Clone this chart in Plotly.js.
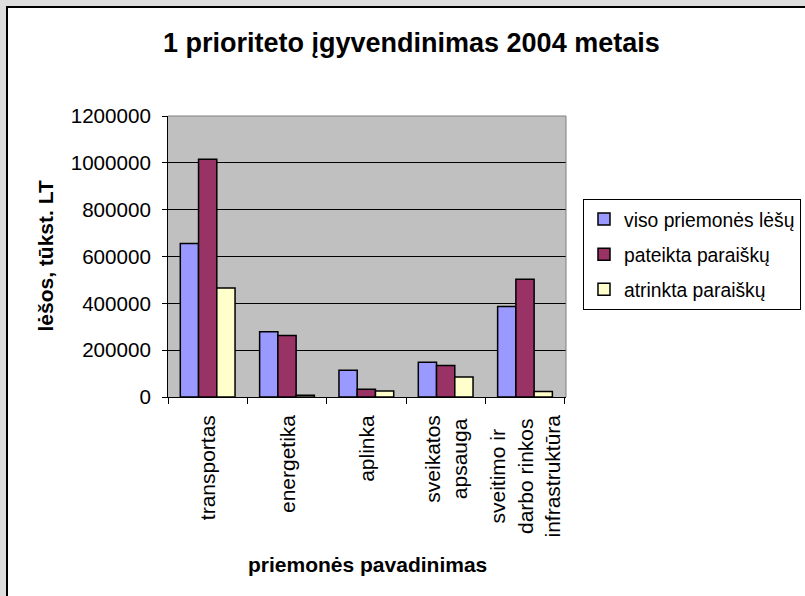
<!DOCTYPE html>
<html>
<head>
<meta charset="utf-8">
<script src="https://cdn.plot.ly/plotly-3.0.1.min.js"></script>
<style>
  html, body { margin: 0; padding: 0; background: #dedede; overflow: hidden; width: 805px; height: 596px; }
  #frame { position: absolute; left: 6px; top: 6px; width: 820px; height: 620px; background: #ffffff; border: 2px solid #000000; }
  #chart { position: absolute; left: 0; top: 0; width: 805px; height: 596px; }
</style>
</head>
<body>
<div id="frame"></div>
<div id="chart"></div>
<script>
// ---- data ----
var categories = ["transportas", "energetika", "aplinka", "sveikatos apsauga", "sveitimo ir darbo rinkos infrastruktūra"];
var tickLabels = ["transportas", "energetika", "aplinka", "sveikatos<br>apsauga", "sveitimo ir<br>darbo rinkos<br>infrastruktūra"];
var seriesNames = ["viso priemonės lėšų", "pateikta paraiškų", "atrinkta paraiškų"];
var visoValues = [655000, 279000, 114000, 148000, 387000];
var pateiktaValues = [1015000, 263000, 33000, 134000, 503000];
var atrinktaValues = [466000, 7000, 26000, 85000, 24000];
var yTickValues = [0, 200000, 400000, 600000, 800000, 1000000, 1200000];

var colors = ["#9999ff", "#993366", "#ffffcc"];
var seriesValues = [visoValues, pateiktaValues, atrinktaValues];
var FONT = "Liberation Sans, Arial, sans-serif";

var traces = seriesValues.map(function (vals, i) {
  return {
    type: "bar",
    name: seriesNames[i],
    x: categories,
    y: vals,
    legendgroup: "g" + i,
    marker: { color: colors[i], line: { color: "#000000", width: 1.5 } },
    hoverinfo: "x+y+name"
  };
});

var annotations = tickLabels.map(function (lab, i) {
  return {
    x: categories[i], xref: "x",
    y: -0.057, yref: "paper",
    xanchor: "center", yanchor: "top",
    text: lab, textangle: -90, align: "center",
    showarrow: false,
    font: { family: FONT, size: 21, color: "#000000" }
  };
});
annotations.push({
  x: -0.309, xref: "paper", y: 0.5, yref: "paper",
  xanchor: "center", yanchor: "middle",
  text: "<b>lėšos, tūkst. LT</b>", textangle: -90, showarrow: false,
  font: { family: FONT, size: 21, color: "#000000" }
});
annotations.push({
  x: 0.5, xref: "paper", y: -0.595, yref: "paper",
  xanchor: "center", yanchor: "middle",
  text: "<b>priemonės pavadinimas</b>", showarrow: false,
  font: { family: FONT, size: 21, color: "#000000" }
});

var layout = {
  width: 805, height: 596,
  paper_bgcolor: "rgba(0,0,0,0)",
  plot_bgcolor: "#c0c0c0",
  margin: { l: 168, r: 239, t: 116, b: 199, autoexpand: false },
  title: {
    text: "<b>1 prioriteto įgyvendinimas 2004 metais</b>",
    font: { family: FONT, size: 27, color: "#000000" },
    xref: "container", x: 0.511, xanchor: "center",
    yref: "container", y: 0.928, yanchor: "middle"
  },
  barmode: "group",
  bargap: 0.31,
  bargroupgap: 0,
  xaxis: {
    type: "category",
    showticklabels: false,
    ticks: "outside", ticklen: 6, tickcolor: "#000000", tickwidth: 1,
    tickson: "boundaries",
    showline: true, linecolor: "#000000", linewidth: 1,
    showgrid: false, zeroline: false, fixedrange: true
  },
  yaxis: {
    range: [0, 1200000],
    tickvals: yTickValues,
    ticktext: yTickValues.map(String),
    ticks: "outside", ticklen: 5, tickcolor: "#000000", tickwidth: 1,
    ticklabelstandoff: 7,
    showline: true, linecolor: "#000000", linewidth: 1,
    showgrid: true, gridcolor: "#000000", gridwidth: 1,
    zeroline: false,
    tickfont: { family: FONT, size: 20.6, color: "#000000" },
    fixedrange: true
  },
  showlegend: true,
  legend: {
    x: 1.0427, xref: "paper", xanchor: "left",
    y: 0.7046, yref: "paper", yanchor: "top",
    bgcolor: "#ffffff", bordercolor: "#000000", borderwidth: 1,
    font: { family: FONT, size: 19.3, color: "#000000" },
    traceorder: "grouped", tracegroupgap: 7
  },
  shapes: [{
    type: "path", xref: "paper", yref: "paper",
    path: "M0,1 L1,1 L1,0",
    line: { color: "#808080", width: 1 },
    layer: "above"
  }],
  annotations: annotations
};

Plotly.newPlot("chart", traces, layout, { displayModeBar: false, staticPlot: true });
</script>
</body>
</html>
